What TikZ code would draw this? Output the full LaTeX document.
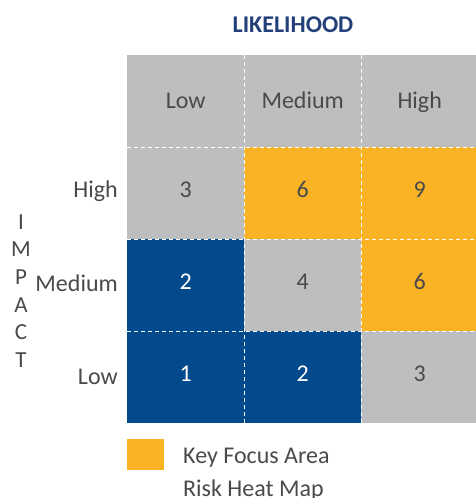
\documentclass[tikz,border=0pt]{standalone}
\usepackage{fontspec}
\setmainfont{Carlito}
\usetikzlibrary{positioning}
\definecolor{hmgray}{HTML}{BDBEC0}
\definecolor{hmorange}{HTML}{FBB326}
\definecolor{hmblue}{HTML}{034A8C}
\definecolor{hmtext}{HTML}{4A4A4C}
\definecolor{hmtitle}{HTML}{24407A}
\tikzset{
  cell/.style={rectangle, anchor=north west, inner sep=0pt, minimum width=117pt, minimum height=92pt,
    text height=15.5pt, text depth=0pt, font=\fontsize{24}{28}\selectfont, text=hmtext},
  num/.style={text height=15.2pt, text depth=7pt},
  gridline/.style={white, line width=1.1pt, dash pattern={on 4pt off 3pt}},
  axislabel/.style={inner sep=0pt, font=\fontsize{24}{28}\selectfont, text=hmtext, text height=15.5pt, text depth=0pt},
}
\begin{document}
\begin{tikzpicture}[x=1pt,y=1pt,yscale=-1,xscale=1]
\useasboundingbox (0,0) rectangle (475,498);

%Header row
\node [cell, fill=hmgray] (h1) at (127,55) {Low};
\node [cell, fill=hmgray] (h2) at (244,55) {Medium};
\node [cell, fill=hmgray] (h3) at (361,55) {High};
%Impact High
\node [cell, num, fill=hmgray] (c11) at (127,147) {3};
\node [cell, num, fill=hmorange] (c12) at (244,147) {6};
\node [cell, num, fill=hmorange] (c13) at (361,147) {9};
%Impact Medium
\node [cell, num, fill=hmblue, text=white] (c21) at (127,239) {2};
\node [cell, num, fill=hmgray] (c22) at (244,239) {4};
\node [cell, num, fill=hmorange] (c23) at (361,239) {6};
%Impact Low
\node [cell, num, fill=hmblue, text=white] (c31) at (127,331) {1};
\node [cell, num, fill=hmblue, text=white] (c32) at (244,331) {2};
\node [cell, num, fill=hmgray] (c33) at (361,331) {3};

%Dashed grid lines
\draw [gridline] (h1.north east) -- (c31.south east) ;
\draw [gridline] (h2.north east) -- (c32.south east) ;
\draw [gridline] (h1.south west) -- (h3.south east) ;
\draw [gridline] (c11.south west) -- (c13.south east) ;
\draw [gridline] (c21.south west) -- (c23.south east) ;

% Text Node
\node [font=\fontsize{24}{28}\selectfont\bfseries, text=hmtitle, inner sep=0pt] (title) at (293,25) {LIKELIHOOD};
% Text Node
\node [axislabel, anchor=east, left=9pt of c11, yshift=3pt] (yhigh) {High};
% Text Node
\node [axislabel, anchor=east, left=9pt of c21, yshift=1pt] (ymed) {Medium};
% Text Node
\node [axislabel, anchor=east, left=9pt of c31] (ylow) {Low};
% Text Node
\node [align=center, inner sep=0pt, font=\fontsize{23}{27.6}\selectfont, text=hmtext] (impact) at (21,291) {I\\M\\P\\A\\C\\T};

%Legend
\node [rectangle, fill=hmorange, anchor=north west, inner sep=0pt, minimum width=37pt, minimum height=31pt] (key) at (127,439) {};
% Text Node
\node [anchor=base west, inner sep=0pt, font=\fontsize{24}{28}\selectfont, text=hmtext] (keytext) at (183,463) {Key Focus Area};
% Text Node
\node [anchor=base west, inner sep=0pt, font=\fontsize{24}{28}\selectfont, text=hmtext] (maptext) at (183,496) {Risk Heat Map};

\end{tikzpicture}
\end{document}
